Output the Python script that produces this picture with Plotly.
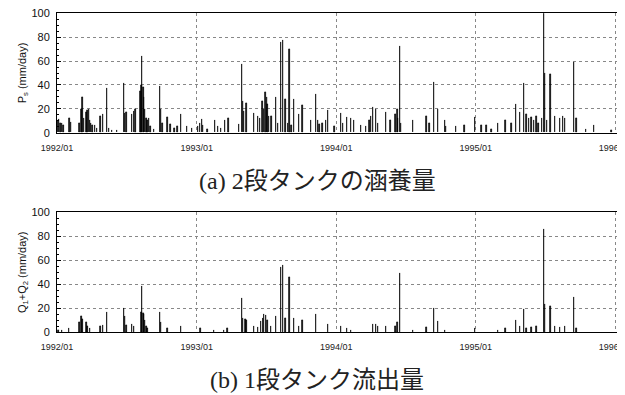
import plotly.graph_objects as go

# (a) recharge of 2-stage tank, P_s (mm/day)
ps_dates = [
    "1992-01-03","1992-01-06","1992-01-10","1992-01-14","1992-01-18","1992-02-03","1992-02-07",
    "1992-02-29","1992-03-05","1992-03-08","1992-03-11","1992-03-18","1992-03-21","1992-03-24",
    "1992-03-27","1992-03-30","1992-04-03","1992-04-10","1992-04-15","1992-04-24","1992-05-01",
    "1992-05-11","1992-05-16","1992-05-24","1992-06-06","1992-06-24","1992-06-27","1992-07-01",
    "1992-07-16","1992-07-20","1992-07-24","1992-08-07","1992-08-09","1992-08-11","1992-08-14",
    "1992-08-16","1992-08-19","1992-08-22","1992-08-25","1992-08-29","1992-09-02","1992-09-11",
    "1992-09-26","1992-09-29","1992-10-03","1992-10-16","1992-10-24","1992-11-04","1992-11-11",
    "1992-11-20","1992-12-07","1992-12-20",
    "1993-01-04","1993-01-09","1993-01-14","1993-01-17","1993-01-29","1993-02-17","1993-02-26",
    "1993-03-05","1993-03-15","1993-03-25","1993-04-22","1993-04-30","1993-05-02","1993-05-05",
    "1993-05-11","1993-05-31","1993-06-11","1993-06-16","1993-06-22","1993-06-26","1993-06-30",
    "1993-07-03","1993-07-05","1993-07-09","1993-07-16","1993-07-28","1993-08-02","1993-08-09",
    "1993-08-14","1993-08-21","1993-08-27","1993-09-01","1993-09-06","1993-09-13","1993-09-26",
    "1993-10-05","1993-10-27","1993-11-09","1993-11-15","1993-11-18","1993-11-26","1993-12-05",
    "1993-12-11","1993-12-27",
    "1994-01-14","1994-01-18","1994-01-29","1994-02-09","1994-02-16","1994-03-07","1994-03-20",
    "1994-03-29","1994-04-02","1994-04-07","1994-04-15","1994-04-20","1994-05-12","1994-05-23",
    "1994-06-05","1994-06-10","1994-06-12","1994-06-17","1994-06-20","1994-07-21","1994-08-25",
    "1994-09-02","1994-09-14","1994-09-24","1994-10-12","1994-10-16","1994-11-11","1994-12-03",
    "1994-12-30",
    "1995-01-16","1995-01-29","1995-02-11","1995-03-01","1995-03-20","1995-04-05","1995-04-16",
    "1995-04-27","1995-05-08","1995-05-14","1995-05-20","1995-05-27","1995-06-02","1995-06-09",
    "1995-06-15","1995-06-24","1995-06-29","1995-07-01","1995-07-07","1995-07-16","1995-07-27",
    "1995-08-10","1995-08-17","1995-08-23","1995-09-16","1995-09-22","1995-10-17","1995-11-07",
    "1995-12-23","1996-01-08",
]
ps_values = [
    10, 11, 8, 8, 6, 12, 9,
    8, 20, 30, 12, 17, 19, 20,
    10, 8, 6, 6, 4, 14, 15,
    37, 4, 2, 2, 41, 16, 17,
    15, 18, 20, 35, 40, 64, 38,
    30, 20, 12, 10, 12, 5, 3,
    39, 20, 8, 13, 7, 4, 5,
    15, 5, 4,
    5, 8, 11, 6, 3, 10, 5,
    4, 10, 12, 7, 57, 26, 18,
    25, 16, 14, 12, 26, 20, 34,
    30, 24, 14, 14, 30, 8, 76,
    77, 28, 8, 70, 6, 28, 15,
    23, 10, 32, 10, 7, 8, 10,
    19, 5,
    16, 8, 13, 12, 10, 6, 5,
    10, 14, 21, 20, 8, 17, 10,
    15, 20, 12, 72, 8, 10, 14,
    8, 42, 20, 10, 5, 5, 6,
    13,
    6, 6, 3, 8, 10, 8, 24,
    17, 41, 15, 12, 13, 10, 14,
    8, 12, 100, 50, 10, 49, 14,
    12, 14, 12, 59, 12, 3, 6,
    2, 8,
]

# (b) outflow of 1-stage tank, Q1+Q2 (mm/day)
q_dates = [
    "1992-01-05","1992-01-14","1992-02-02","1992-02-29","1992-03-05","1992-03-08","1992-03-18",
    "1992-03-21","1992-03-27","1992-04-24","1992-05-01","1992-05-11","1992-06-24","1992-06-27",
    "1992-07-01","1992-07-16","1992-07-20","1992-08-09","1992-08-11","1992-08-14","1992-08-16",
    "1992-08-19","1992-08-22","1992-08-25","1992-09-26","1992-09-29","1992-10-16","1992-11-20",
    "1993-01-11","1993-02-15","1993-03-13","1993-03-22","1993-04-30","1993-05-02","1993-05-08",
    "1993-05-11","1993-05-31","1993-06-11","1993-06-18","1993-06-23","1993-06-26","1993-07-01",
    "1993-07-05","1993-07-14","1993-07-28","1993-08-09","1993-08-14","1993-08-21","1993-09-01",
    "1993-09-13","1993-09-26","1993-10-05","1993-11-09","1993-12-11",
    "1994-01-14","1994-01-29","1994-02-09","1994-04-07","1994-04-15","1994-04-20","1994-05-12",
    "1994-06-05","1994-06-10","1994-06-17","1994-07-21","1994-08-25","1994-09-14","1994-09-24",
    "1994-10-12","1994-12-30",
    "1995-03-01","1995-03-20","1995-04-16","1995-04-27","1995-05-08","1995-05-14","1995-05-27",
    "1995-06-09","1995-06-29","1995-07-01","1995-07-16","1995-07-27","1995-08-10","1995-08-23",
    "1995-09-16","1995-09-22","1996-01-08",
]
q_values = [
    2, 2, 3, 8, 13, 11, 8,
    5, 3, 5, 6, 17, 20, 13,
    6, 7, 5, 17, 38, 16, 15,
    10, 5, 3, 17, 8, 3, 5,
    3, 2, 2, 3, 28, 12, 11,
    10, 5, 4, 9, 12, 15, 14,
    10, 5, 13, 54, 56, 12, 46,
    12, 5, 10, 15, 7,
    5, 3, 2, 7, 7, 5, 5,
    5, 8, 49, 2, 4, 20, 9,
    2, 3,
    2, 3, 10, 5, 19, 3, 4,
    5, 86, 23, 22, 5, 4, 5,
    29, 3, 1,
]

year_ticks = ["1992-01-01", "1993-01-01", "1994-01-01", "1995-01-01", "1996-01-01"]
x_range = ["1992-01-01", "1996-01-27"]
captions = ["(a) 2段タンクの涵養量", "(b) 1段タンク流出量"]
y_titles = ["P<sub>s</sub> (mm/day)", "Q<sub>1</sub>+Q<sub>2</sub> (mm/day)"]

DAY_MS = 86400000
fig = go.Figure()
fig.add_trace(go.Bar(x=ps_dates, y=ps_values, width=DAY_MS, xaxis="x", yaxis="y",
                     marker=dict(color="black", line=dict(color="black", width=0.7))))
fig.add_trace(go.Bar(x=q_dates, y=q_values, width=DAY_MS, xaxis="x2", yaxis="y2",
                     marker=dict(color="black", line=dict(color="black", width=0.7))))

# page body has an 8px margin: figure is sized so it ends at the window edge
OFF = 8
W, H = 625 - OFF, 395 - OFF
def px_x(x):
    return (x - OFF) / W
def px_y(y):
    return (H - (y - OFF)) / H
def ydom(top_px, bot_px):
    return [px_y(bot_px), px_y(top_px)]

tickfont_x = dict(family="Liberation Sans, Arial", size=9, color="#222")
tickfont_y = dict(family="Liberation Sans, Arial", size=11, color="#111")

def xax(anchor):
    return dict(domain=[px_x(57), 1.0], anchor=anchor, type="date", range=x_range,
                tickvals=year_ticks, tickformat="%Y/%m", tickfont=tickfont_x,
                showgrid=True, gridcolor="#888", griddash="dot", gridwidth=1,
                showline=True, linecolor="black", linewidth=1, mirror=True,
                ticks="", ticklabelstandoff=6, zeroline=False, automargin=False,
                ticklabeloverflow="allow")

def yax(anchor, dom, title):
    return dict(domain=dom, anchor=anchor, range=[0, 100], dtick=20, tickfont=tickfont_y,
                showgrid=True, gridcolor="#888", griddash="dot", gridwidth=1,
                showline=True, linecolor="black", linewidth=1, mirror="ticks",
                ticks="inside", ticklen=4, tickcolor="black",
                minor=dict(dtick=5, ticks="inside", ticklen=2, tickcolor="black", showgrid=False),
                ticklabelstandoff=4, zeroline=False, automargin=False,
                ticklabeloverflow="allow",
                title=dict(text=title, font=dict(family="Liberation Sans, Arial", size=11, color="#111"),
                           standoff=2))

fig.update_layout(
    width=W, height=H, margin=dict(l=0, r=0, t=0, b=0),
    paper_bgcolor="white", plot_bgcolor="white", showlegend=False, bargap=0,
    xaxis=xax("y"), yaxis=yax("x", ydom(13.3, 132.7), y_titles[0]),
    xaxis2=xax("y2"), yaxis2=yax("x2", ydom(212.3, 332.3), y_titles[1]),
)

cap_font = dict(family="Liberation Serif, Times New Roman, Noto Sans CJK JP", size=24, color="#222")
fig.add_annotation(text=captions[0], x=px_x(317), y=px_y(181), xref="paper", yref="paper",
                   showarrow=False, font=cap_font, xanchor="center", yanchor="middle")
fig.add_annotation(text=captions[1], x=px_x(317), y=px_y(380), xref="paper", yref="paper",
                   showarrow=False, font=cap_font, xanchor="center", yanchor="middle")

fig.write_html("out.html")
